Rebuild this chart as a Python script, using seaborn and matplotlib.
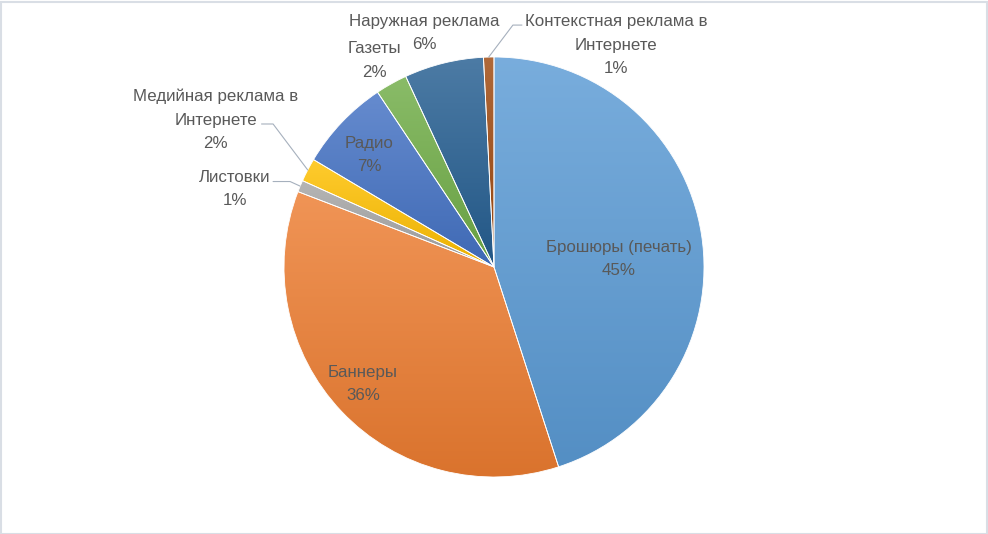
import numpy as np
import matplotlib
matplotlib.use("Agg")
import matplotlib.pyplot as plt
import matplotlib.colors as mcolors
import matplotlib.transforms as mtransforms
from matplotlib.patches import Rectangle
import seaborn as sns

# ---- data ----
categories = ["Брошюры (печать)", "Баннеры", "Листовки",
              "Медийная реклама в\nИнтернете", "Радио", "Газеты",
              "Наружная реклама", "Контекстная реклама в\nИнтернете"]
values = [45.0, 35.8, 0.9, 1.8, 7.1, 2.45, 6.1, 0.8]
base_colors = ["#5B9BD5", "#ED7D31", "#A5A5A5", "#FFC000",
               "#4472C4", "#70AD47", "#255E91", "#9E480E"]

# ---- label layout (axes data units, pie radius = 1) ----
label_pos = [(0.595, 0.038), (-0.624, -0.557), (-1.233, 0.371), (-1.326, 0.70),
             (-0.595, 0.533), (-0.571, 0.983), (-0.333, 1.113), (0.581, 1.057)]
leader = {2: [(-0.971, 0.407), (-1.052, 0.407)],
          3: [(-1.052, 0.681), (-1.107, 0.681)],
          7: [(0.09, 1.152), (0.133, 1.152)]}
LINE_PT = 16.8  # line pitch in points

sns.set_theme(style="white")
plt.rcParams['font.family'] = ['Liberation Sans', 'DejaVu Sans']

W, H = 988, 534
fig = plt.figure(figsize=(W / 100, H / 100), dpi=100)
R = 210
cx, cy = 494, 267
ax = fig.add_axes([(cx - R) / W, (H - cy - R) / H, 2 * R / W, 2 * R / H])

palette = sns.color_palette(base_colors)
wedges, _ = ax.pie(values, colors=palette, startangle=90, counterclock=False,
                   radius=1, center=(0, 0), frame=True,
                   wedgeprops=dict(linewidth=0.6, edgecolor="white"))
ax.set_xlim(-1, 1)
ax.set_ylim(-1, 1)
ax.axis("off")

# gradient fill per wedge (lighter top, darker bottom)
for w, c in zip(wedges, palette):
    rgb = np.array(mcolors.to_rgb(c))
    light = rgb + (1 - rgb) * 0.18
    dark = rgb * 0.92
    ext = w.get_path().get_extents()
    t = np.linspace(0, 1, 256)[:, None]
    img = light[None, :] * (1 - t) + dark[None, :] * t
    img = np.repeat(img[:, None, :], 2, axis=1)
    im = ax.imshow(img, extent=[ext.x0, ext.x1, ext.y0, ext.y1],
                   origin="upper", aspect="auto", zorder=w.get_zorder() + 0.1,
                   interpolation="bilinear")
    im.set_clip_path(w)
ax.set_xlim(-1, 1)
ax.set_ylim(-1, 1)

for w in wedges:
    w.set_facecolor("none")
    w.set_zorder(5)

total = sum(values)
theta = 90.0
for i, (name, v) in enumerate(zip(categories, values)):
    ang = theta - v / total * 360 / 2
    theta -= v / total * 360
    lx, ly = label_pos[i]
    lines = f"{name}\n{round(v / total * 100):.0f}%".split("\n")
    n = len(lines)
    for k, line in enumerate(lines):
        off = ((n - 1) / 2 - k) * LINE_PT
        tr = mtransforms.offset_copy(ax.transData, fig=fig, x=0, y=off,
                                     units="points")
        ax.text(lx, ly, line, transform=tr, ha="center", va="center",
                fontsize=12.2, color="#595959", zorder=10)
    if i in leader:
        ex, ey = np.cos(np.radians(ang)), np.sin(np.radians(ang))
        pts = [(ex, ey)] + leader[i]
        xs, ys = zip(*pts)
        ax.plot(xs, ys, color="#A6B0BD", lw=0.8, zorder=9, clip_on=False)

fig.add_artist(Rectangle((0.5 / W, 0.5 / H), 1 - 2 / W, 1 - 2 / H,
                         transform=fig.transFigure, fill=False,
                         edgecolor="#D9DEE5", lw=1.5))

fig.savefig("out.png", dpi=100)
